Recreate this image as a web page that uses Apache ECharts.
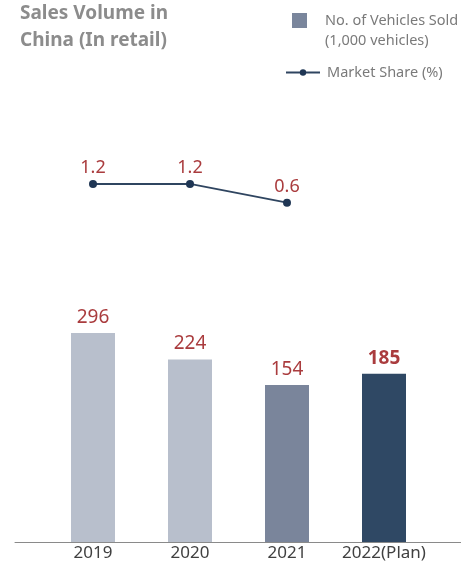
<!DOCTYPE html>
<html>
<head>
<meta charset="utf-8">
<script src="https://cdn.jsdelivr.net/npm/echarts@6/dist/echarts.min.js"></script>
<style>
  html, body { margin: 0; padding: 0; background: #fff; }
  #chart { width: 461px; height: 571px; }
</style>
</head>
<body>
<div id="chart"></div>
<script>
// Retail sales volume in China, by year
const categories = ['2019', '2020', '2021', '2022(Plan)'];
const vehiclesSold = [296, 224, 154, 185];       // 1,000 vehicles
const marketShare = [1.2, 1.2, 0.6, null];       // %
const barColors = ['#b8bfcc', '#b8bfcc', '#7a859b', '#2f4864'];

const FONT = '"Noto Sans", "Open Sans", sans-serif';
const LABEL_RED = '#aa3c3e';
const VOLUME_MIN = -275;   // volume axis is truncated: bars rise from this value

const chart = echarts.init(document.getElementById('chart'));

// Bars drawn from the bottom of the (truncated) volume axis up to each value
function renderVolumeBar(params, api) {
  const idx = api.value(0);
  const val = api.value(1);
  const top = api.coord([idx, val]);
  const base = api.coord([idx, VOLUME_MIN]);
  const w = 44;
  const isPlan = idx === 3;
  return {
    type: 'rect',
    shape: { x: top[0] - w / 2, y: top[1], width: w, height: base[1] - top[1] },
    style: { fill: barColors[idx] },
    textContent: {
      style: {
        text: String(val),
        fontFamily: FONT,
        fontSize: 19,
        fontWeight: isPlan ? 'bold' : 'normal',
        fill: LABEL_RED
      }
    },
    textConfig: { position: 'top', distance: 6 }
  };
}

chart.setOption({
  animation: false,
  title: [
    {
      text: 'Sales Volume in\nChina (In retail)',
      left: 15,
      top: -5,
      textStyle: {
        fontFamily: FONT,
        fontSize: 19,
        fontWeight: 'bold',
        color: '#8c8c8c',
        lineHeight: 27
      }
    },
    {
      text: '(1,000 vehicles)',
      left: 320,
      top: 28,
      textStyle: {
        fontFamily: FONT,
        fontSize: 14.5,
        fontWeight: 'normal',
        color: '#7a7a7a'
      }
    }
  ],
  legend: [
    {
      data: ['No. of Vehicles Sold'],
      left: 287,
      top: 8,
      icon: 'rect',
      itemWidth: 15,
      itemHeight: 15,
      itemGap: 0,
      textStyle: {
        fontFamily: FONT,
        fontSize: 14.5,
        color: '#7a7a7a',
        padding: [0, 0, 0, 13]
      }
    },
    {
      data: ['Market Share (%)'],
      left: 280,
      top: 60,
      itemWidth: 34,
      itemHeight: 8,
      textStyle: {
        fontFamily: FONT,
        fontSize: 14.5,
        color: '#7a7a7a',
        padding: [0, 0, 0, 2]
      }
    }
  ],
  grid: [
    { left: 44.5, width: 388, top: 100, bottom: 29, containLabel: false },
    { left: 15, right: 0, top: 100, bottom: 29, containLabel: false }
  ],
  xAxis: [
    {
      type: 'category',
      gridIndex: 0,
      data: categories,
      axisLine: { show: false },
      axisTick: { show: false },
      axisLabel: {
        interval: 0,
        fontFamily: FONT,
        fontSize: 17,
        color: '#404040',
        margin: 3
      }
    },
    {
      // full-width baseline under the bars
      type: 'value',
      gridIndex: 1,
      min: 0,
      max: 1,
      axisLine: { show: true, lineStyle: { color: '#8a8a8a', width: 1 } },
      axisTick: { show: false },
      axisLabel: { show: false },
      splitLine: { show: false }
    }
  ],
  yAxis: [
    { type: 'value', gridIndex: 0, min: VOLUME_MIN, max: 933, show: false, splitLine: { show: false } },
    { type: 'value', gridIndex: 0, min: -10.31, max: 3.9, show: false, splitLine: { show: false } },
    { type: 'value', gridIndex: 1, show: false, splitLine: { show: false } }
  ],
  series: [
    {
      name: 'No. of Vehicles Sold',
      type: 'custom',
      xAxisIndex: 0,
      yAxisIndex: 0,
      itemStyle: { color: '#7a869c' },
      renderItem: renderVolumeBar,
      encode: { x: 0, y: 1 },
      data: vehiclesSold.map((v, i) => [i, v]),
      z: 2
    },
    {
      name: 'Market Share (%)',
      type: 'line',
      xAxisIndex: 0,
      yAxisIndex: 1,
      data: marketShare,
      symbol: 'circle',
      symbolSize: 8,
      color: '#23395a',
      lineStyle: { color: '#2f4560', width: 1.8 },
      itemStyle: { color: '#1f3654' },
      label: {
        show: true,
        position: 'top',
        distance: 3,
        fontFamily: FONT,
        fontSize: 18,
        color: LABEL_RED,
        formatter: p => p.value.toFixed(1)
      }
    }
  ]
});
</script>
</body>
</html>
